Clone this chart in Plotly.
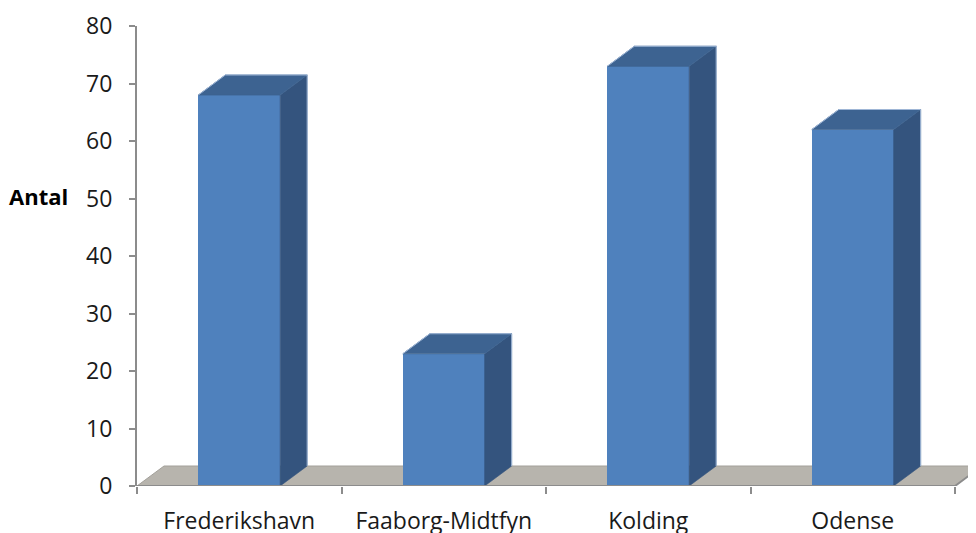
import plotly.graph_objects as go

# ---- data ----
categories = ["Frederikshavn", "Faaborg-Midtfyn", "Kolding", "Odense"]
values = [68, 23, 73, 62]
y_ticks = [0, 10, 20, 30, 40, 50, 60, 70, 80]
y_title = "Antal"

# ---- style / geometry constants ----
FRONT = "#4f81bd"
SIDE = "#34547e"
TOP = "#3d6391"
EDGE = "#9fb6d6"
FLOOR = "#b7b4ad"
AXIS = "#8c8c8c"
FONT = "Open Sans"

PAGE_OFF = 8                       # default page body margin
W, H = 976 - PAGE_OFF, 533 - PAGE_OFF
ML, MR, MT, MB = 137 - PAGE_OFF, 0, 26 - PAGE_OFF, 47
plot_w = W - ML - MR
plot_h = H - MT - MB
n = len(categories)
cat_px = (955 - 137) / n          # pixels per category
x0, x1 = -0.5, -0.5 + plot_w / cat_px
bar_w = 0.4
DX_PX, DY_PX = 27, 20
dx = DX_PX / cat_px
y_max = 80
dy = DY_PX / (plot_h / y_max)

fig = go.Figure()

# front faces
fig.add_trace(go.Bar(
    x=list(range(n)), y=values, width=bar_w,
    marker=dict(color=FRONT, line=dict(width=0)),
    xaxis="x", yaxis="y", showlegend=False, hoverinfo="x+y",
))

# side and top faces derived from the values
for i, v in enumerate(values):
    l, r = i - bar_w / 2, i + bar_w / 2
    fig.add_trace(go.Scatter(
        x=[r, r + dx, r + dx, r, r], y=[0, dy, v + dy, v, 0],
        fill="toself", fillcolor=SIDE, mode="lines",
        line=dict(width=0.6, color=SIDE), showlegend=False, hoverinfo="skip",
    ))
    fig.add_trace(go.Scatter(
        x=[l, l + dx, r + dx, r, l], y=[v, v + dy, v + dy, v, v],
        fill="toself", fillcolor=TOP, mode="lines",
        line=dict(width=0.8, color=TOP), showlegend=False, hoverinfo="skip",
    ))
    fig.add_trace(go.Scatter(
        x=[l, l + dx, r + dx, r + dx], y=[v, v + dy, v + dy, dy],
        mode="lines", line=dict(width=1, color=EDGE),
        showlegend=False, hoverinfo="skip",
    ))

# floor front/right edge line on the overlay axis (carries the boundary ticks)
fx0, fx1 = -0.5, n - 0.5
fig.add_trace(go.Scatter(
    x=[fx0, fx1, fx1 + dx], y=[0, 0, dy], mode="lines",
    line=dict(width=2, color=AXIS), xaxis="x2", yaxis="y",
    showlegend=False, hoverinfo="skip",
))

shapes = [
    dict(type="path", xref="x", yref="y", layer="below",
         path=f"M {fx0} 0 L {fx0 + dx} {dy} L {fx1 + dx} {dy} L {fx1} 0 Z",
         fillcolor=FLOOR, line=dict(color="#a3a09a", width=1)),
]

fig.update_layout(
    width=W, height=H,
    margin=dict(l=ML, r=MR, t=MT, b=MB, pad=0, autoexpand=False),
    paper_bgcolor="white", plot_bgcolor="white",
    font=dict(family=FONT, size=23, color="#1a1a1a"),
    shapes=shapes,
    bargap=0,
    xaxis=dict(
        range=[x0, x1], tickvals=list(range(n)), ticktext=categories,
        ticks="", showline=False, showgrid=False, zeroline=False,
        ticklabelstandoff=19, fixedrange=True, automargin=False,
    ),
    xaxis2=dict(
        range=[x0, x1], overlaying="x", side="bottom",
        tickvals=[k - 0.5 for k in range(n + 1)], ticktext=[""] * (n + 1),
        ticks="outside", ticklen=7, tickwidth=1.5, tickcolor=AXIS,
        showline=False, showgrid=False, zeroline=False, fixedrange=True,
        automargin=False,
    ),
    yaxis=dict(
        range=[0, y_max], tickvals=y_ticks,
        ticks="outside", ticklen=6, tickwidth=1.5, tickcolor=AXIS,
        showline=True, linecolor=AXIS, linewidth=2,
        showgrid=False, zeroline=False, ticklabelstandoff=12, fixedrange=True,
        automargin=False,
    ),
    annotations=[dict(
        text=f"<b>{y_title}</b>", xref="paper", yref="paper",
        x=(70 - 137) / plot_w, y=(486 - 196) / plot_h,
        xanchor="right", yanchor="middle", showarrow=False,
        font=dict(family=FONT, size=22, color="#000000"),
    )],
)

fig.write_html("out.html")
